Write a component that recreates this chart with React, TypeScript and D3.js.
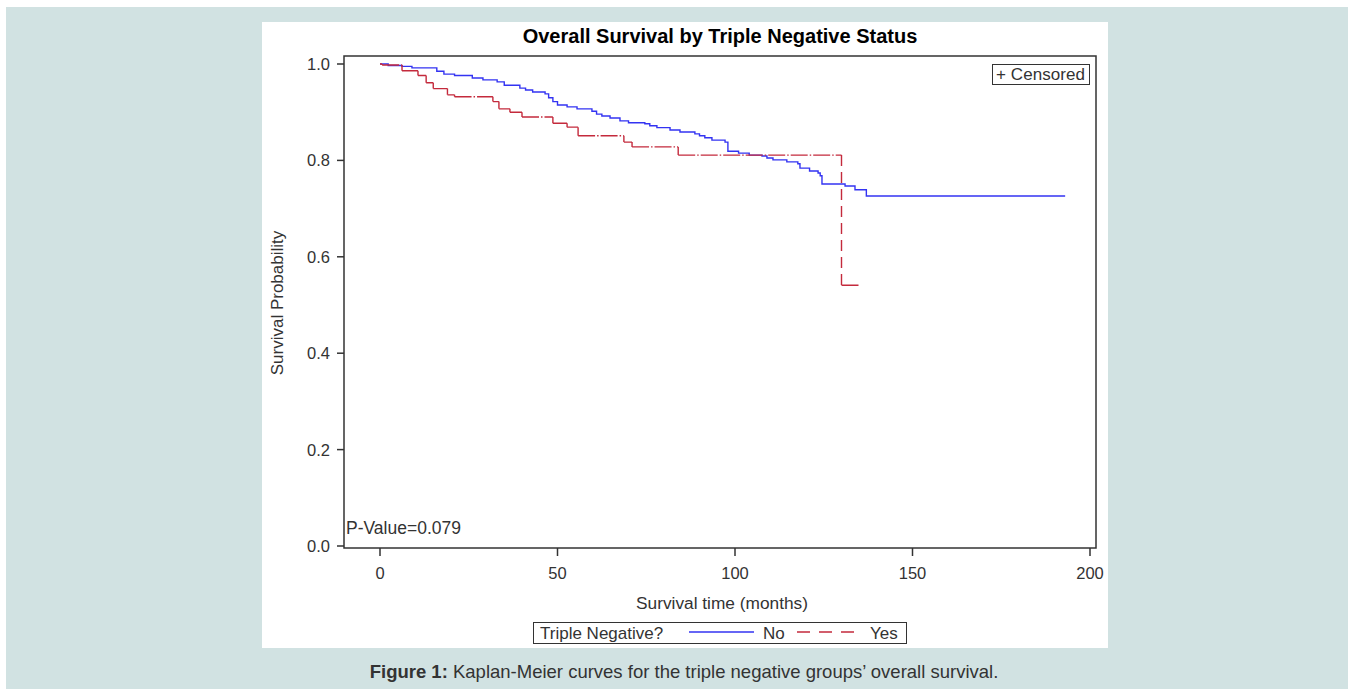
import React from "react";
import * as d3 from "d3";

// Triple Negative = No
const noTimes = [0, 2.3, 6.2, 9, 16, 18, 21, 26, 29, 33, 35, 39.4, 41, 43, 46.5, 47.5, 48.7, 50, 52.7, 55.5, 59.7, 61, 62.5, 64.8, 67.6, 70, 74.6, 76, 78, 81.7, 84.5, 88.7, 90, 91.5, 93.5, 97.2, 98, 101, 104, 107.6, 109, 110.7, 114.6, 117.7, 118.3, 121, 123.4, 124, 124.5, 131, 133.8, 137, 193];
const noSurv = [1.0, 0.997, 0.995, 0.992, 0.985, 0.979, 0.976, 0.971, 0.967, 0.963, 0.956, 0.95, 0.946, 0.942, 0.938, 0.93, 0.922, 0.915, 0.911, 0.907, 0.902, 0.896, 0.892, 0.888, 0.882, 0.878, 0.876, 0.872, 0.868, 0.863, 0.859, 0.855, 0.851, 0.847, 0.842, 0.838, 0.819, 0.815, 0.811, 0.809, 0.805, 0.801, 0.797, 0.793, 0.784, 0.778, 0.774, 0.768, 0.751, 0.747, 0.739, 0.726, 0.726];

// Triple Negative = Yes
const yesTimes = [0, 0.6, 6.2, 10.7, 13, 15, 19, 21, 31.8, 33.5, 36.6, 40, 48.7, 52.7, 55.8, 68.7, 71, 84, 130, 135];
const yesSurv = [1.0, 0.998, 0.986, 0.976, 0.961, 0.949, 0.936, 0.932, 0.922, 0.907, 0.9, 0.89, 0.877, 0.869, 0.851, 0.838, 0.828, 0.811, 0.541, 0.541];

const yTicks = [0, 0.2, 0.4, 0.6, 0.8, 1.0];
const xTicks = [0, 50, 100, 150, 200];

const font = "'Liberation Sans', Arial, sans-serif";
const ink = "#333";
const blue = "#3333f2";
const red = "#c42a3c";

const frame = { left: 344, right: 1096, top: 56, bottom: 548 };

export default function App() {
  const x = d3.scaleLinear().domain([0, 200]).range([380, 1090]);
  const y = d3.scaleLinear().domain([0, 1]).range([546, 64]);

  const step = d3
    .line<[number, number]>()
    .x((d) => x(d[0]))
    .y((d) => y(d[1]))
    .curve(d3.curveStepAfter);

  const noPath = step(noTimes.map((t, i) => [t, noSurv[i]]));

  // red curve split into its flat and vertical parts so each gets SAS's dash look
  const yesFlat = yesTimes
    .slice(0, -1)
    .map((t, i) => `M${x(t)},${y(yesSurv[i])}H${x(yesTimes[i + 1])}`)
    .join("");
  const yesDrops = yesTimes
    .slice(1)
    .map((t, i) => `M${x(t)},${y(yesSurv[i])}V${y(yesSurv[i + 1])}`)
    .join("");

  return (
    <div style={{ position: "absolute", left: 0, top: 0 }}>
      <svg width={1354} height={689} style={{ display: "block" }}>
        <rect x={0} y={0} width={1354} height={689} fill="#fff" />
        <rect x={6} y={7} width={1342} height={682} fill="#d1e2e2" />
        <rect x={262} y={22} width={846} height={626} fill="#fff" />

        <text x={720} y={43} textAnchor="middle" fontFamily={font} fontWeight="bold" fontSize={20} fill="#000">
          Overall Survival by Triple Negative Status
        </text>

        {/* frame */}
        <rect
          x={frame.left}
          y={frame.top}
          width={frame.right - frame.left}
          height={frame.bottom - frame.top}
          fill="none"
          stroke={ink}
          strokeWidth={1.5}
        />

        {/* y axis */}
        {yTicks.map((t) => (
          <g key={"y" + t}>
            <line x1={337} x2={frame.left} y1={y(t)} y2={y(t)} stroke={ink} strokeWidth={1.5} />
            <text x={330} y={y(t) + 6} textAnchor="end" fontFamily={font} fontSize={16.5} fill={ink}>
              {d3.format(".1f")(t)}
            </text>
          </g>
        ))}
        <text
          transform={`translate(283,303) rotate(-90)`}
          textAnchor="middle"
          fontFamily={font}
          fontSize={17}
          fill={ink}
        >
          Survival Probability
        </text>

        {/* x axis */}
        {xTicks.map((t) => (
          <g key={"x" + t}>
            <line x1={x(t)} x2={x(t)} y1={frame.bottom} y2={556} stroke={ink} strokeWidth={1.5} />
            <text x={x(t)} y={579} textAnchor="middle" fontFamily={font} fontSize={16.5} fill={ink}>
              {t}
            </text>
          </g>
        ))}
        <text x={722} y={609} textAnchor="middle" fontFamily={font} fontSize={17.3} fill={ink}>
          Survival time (months)
        </text>

        {/* curves */}
        <path d={noPath ?? ""} fill="none" stroke={blue} strokeWidth={1.4} />
        <path d={yesFlat} fill="none" stroke={red} strokeWidth={1.4} strokeDasharray="17,2,1.5,2" />
        <path d={yesDrops} fill="none" stroke={red} strokeWidth={1.4} strokeDasharray="11,6" />

        <text x={346} y={534} fontFamily={font} fontSize={17.5} fill={ink}>
          P-Value=0.079
        </text>

        {/* censored legend */}
        <rect x={992.5} y={64.5} width={97} height={20} fill="#fff" stroke={ink} strokeWidth={1} />
        <text x={996} y={80} fontFamily={font} fontSize={17} fill={ink} textLength={89}>
          + Censored
        </text>

        {/* group legend */}
        <rect x={533.5} y={622.5} width={373} height={21} fill="#fff" stroke={ink} strokeWidth={1} />
        <text x={540} y={639} fontFamily={font} fontSize={17} fill={ink}>
          Triple Negative?
        </text>
        <line x1={689} x2={754} y1={632} y2={632} stroke={blue} strokeWidth={1.4} />
        <text x={763} y={639} fontFamily={font} fontSize={17} fill={ink}>
          No
        </text>
        <line x1={797} x2={858} y1={632} y2={632} stroke={red} strokeWidth={1.4} strokeDasharray="13,9" />
        <text x={870} y={639} fontFamily={font} fontSize={17} fill={ink}>
          Yes
        </text>

        {/* caption */}
        <text x={684} y={678} textAnchor="middle" fontFamily={font} fontSize={18.5} fill={ink}>
          <tspan fontWeight="bold">Figure 1:</tspan> Kaplan-Meier curves for the triple negative groups’ overall survival.
        </text>
      </svg>
    </div>
  );
}
